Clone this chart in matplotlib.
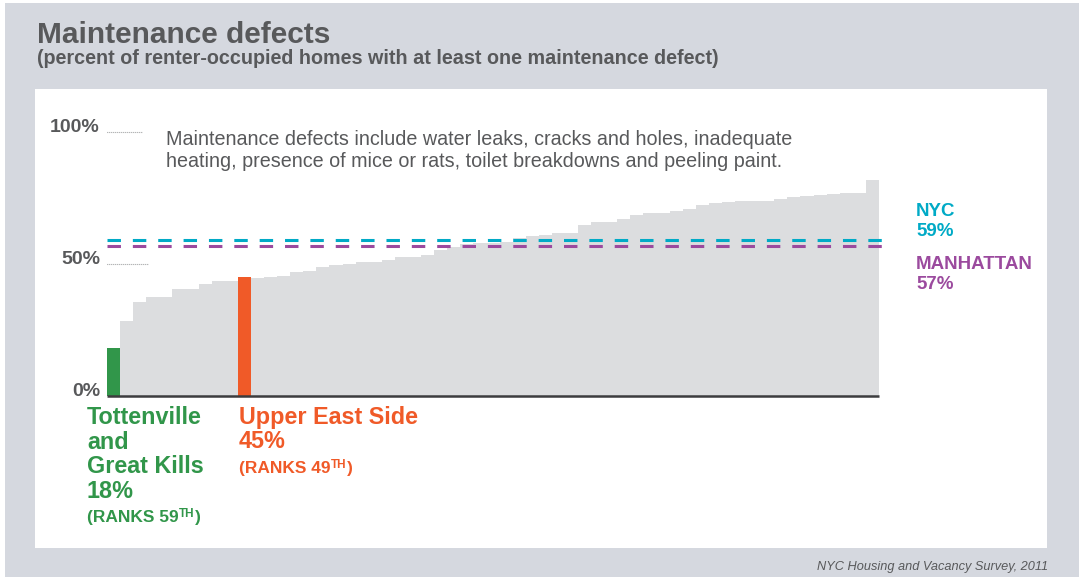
import matplotlib
matplotlib.use("Agg")
import matplotlib.pyplot as plt
from matplotlib.patches import Rectangle
from matplotlib import font_manager

# ---- data: share of renter-occupied homes with at least one maintenance defect ----
ranks_desc = list(range(59, 0, -1))          # bars run from rank 59 (lowest) to rank 1
defect_pct = [18, 28.4, 35.6, 37.5, 37.5, 40.7, 40.7, 42.4, 43.6, 43.6,
              45, 44.7, 45.1, 45.5, 47.0, 47.3, 48.8, 49.6, 50.0, 50.8,
              50.8, 51.5, 52.7, 52.7, 53.4, 55.3, 56.4, 57.6, 58.0, 58.0,
              58.3, 59.8, 60.5, 61.0, 61.7, 61.7, 64.8, 65.9, 65.9, 67.0,
              68.5, 69.3, 69.3, 70.0, 70.8, 72.3, 73.0, 73.5, 73.9, 73.9,
              73.9, 74.6, 75.4, 75.8, 76.1, 76.5, 76.9, 76.9, 81.8]
highlight_names = ["Tottenville\nand\nGreat Kills", "Upper East Side"]
highlight_ranks = [59, 49]
reference_names = ["NYC", "MANHATTAN"]
reference_pct = [59, 57]
y_ticks = [0, 50, 100]
y_tick_labels = ["0%", "50%", "100%"]

W, H = 1079, 577
BG = "#d5d8df"
GREY_BAR = "#dcdddf"
TEXT = "#58595b"
GREEN = "#31964a"
ORANGE = "#f05a28"
CYAN = "#00aac6"
PURPLE = "#9b4a9e"

avail = {f.name for f in font_manager.fontManager.ttflist}
NARROW = "Liberation Sans Narrow" if "Liberation Sans Narrow" in avail else "Liberation Sans"
FAM = [NARROW, "DejaVu Sans"]
plt.rcParams["font.family"] = FAM

fig = plt.figure(figsize=(W / 100, H / 100), dpi=100, facecolor="white")


def fx(x):
    return x / W


def fy(y):
    return 1 - y / H


# grey backdrop and white chart panel
fig.patches.append(Rectangle((fx(5), 0), 1 - fx(5), fy(3), transform=fig.transFigure,
                             facecolor=BG, edgecolor="none", zorder=-10))
fig.patches.append(Rectangle((fx(35), fy(548)), fx(1047) - fx(35), fy(89) - fy(548),
                             transform=fig.transFigure, facecolor="white",
                             edgecolor="none", zorder=-9))

# plotting area: bars between x=107..879 px, 0% at y=396 px, 100% at y=132 px
ax = fig.add_axes([fx(107), fy(396), fx(879) - fx(107), fy(132) - fy(396)])
ax.set_facecolor("none")
n = len(defect_pct)
xs = list(range(n))
colors = []
for r in ranks_desc:
    if r == highlight_ranks[0]:
        colors.append(GREEN)
    elif r == highlight_ranks[1]:
        colors.append(ORANGE)
    else:
        colors.append(GREY_BAR)
ax.bar(xs, defect_pct, width=1.0, color=colors, linewidth=0, zorder=2)
ax.set_xlim(-0.5, n - 0.5)
ax.set_ylim(0, 100)
ax.axis("off")

# baseline
ax.plot([-0.5, n - 0.5], [0, 0], color="#3c3c3e", lw=1.8, solid_capstyle="butt",
        zorder=3, clip_on=False)

# NYC / Manhattan reference lines
for pct, col in zip(reference_pct, [CYAN, PURPLE]):
    ax.plot([-0.5, n + 0.5], [pct, pct], color=col, lw=2.2, dashes=(4.4, 3.9),
            zorder=4, clip_on=False)

# y-axis labels with dotted leaders
leader_end = {100: 142, 50: 148}
for v, lab in zip(y_ticks, y_tick_labels):
    ax.text(-0.5 - 7 / 13.08, v, lab, ha="right", va="baseline", fontsize=14,
            fontweight="bold", color=TEXT, transform=ax.transData)
    if v in leader_end:
        x_end = (leader_end[v] - 107) / 13.08 - 0.5
        ax.plot([-0.5, x_end], [v, v], color="#6d6e70", lw=0.8, ls=(0, (0.6, 1.2)),
                clip_on=False, zorder=3)

# titles
fig.text(fx(37), fy(43), "Maintenance defects", fontsize=21.5, fontweight="bold",
         color=TEXT, ha="left", va="baseline")
fig.text(fx(37), fy(64), "(percent of renter-occupied homes with at least one maintenance defect)",
         fontsize=14.2, fontweight="bold", color=TEXT, ha="left", va="baseline")

# note
fig.text(fx(166), fy(145),
         "Maintenance defects include water leaks, cracks and holes, inadequate",
         fontsize=14.2, color=TEXT, ha="left", va="baseline")
fig.text(fx(166), fy(167),
         "heating, presence of mice or rats, toilet breakdowns and peeling paint.",
         fontsize=14.2, color=TEXT, ha="left", va="baseline")

# reference line labels
fig.text(fx(916), fy(216), reference_names[0], fontsize=13.5, fontweight="bold", color=CYAN)
fig.text(fx(916), fy(236), f"{reference_pct[0]}%", fontsize=13.5, fontweight="bold", color=CYAN)
fig.text(fx(916), fy(269), reference_names[1], fontsize=13.5, fontweight="bold", color=PURPLE)
fig.text(fx(916), fy(289), f"{reference_pct[1]}%", fontsize=13.5, fontweight="bold", color=PURPLE)

fig.canvas.draw()
renderer = fig.canvas.get_renderer()


def rank_label(x, y, rank, color):
    """Draw '(RANKS nnTH)' with a raised, smaller ordinal suffix."""
    t1 = fig.text(fx(x), fy(y), f"(RANKS {rank}", fontsize=12.5, fontweight="bold",
                  color=color, ha="left", va="baseline")
    x1 = t1.get_window_extent(renderer).x1
    t2 = fig.text(x1 / W + 0.0005, fy(y - 5), "TH", fontsize=8.5, fontweight="bold",
                  color=color, ha="left", va="baseline")
    x2 = t2.get_window_extent(renderer).x1
    fig.text(x2 / W + 0.0005, fy(y), ")", fontsize=12.5, fontweight="bold",
             color=color, ha="left", va="baseline")


# highlighted districts
green_pct = defect_pct[ranks_desc.index(highlight_ranks[0])]
orange_pct = defect_pct[ranks_desc.index(highlight_ranks[1])]
for i, line in enumerate(highlight_names[0].split("\n")):
    fig.text(fx(87), fy(424 + 24.7 * i), line, fontsize=16.8, fontweight="bold",
             color=GREEN, ha="left", va="baseline")
fig.text(fx(87), fy(498), f"{green_pct:.0f}%", fontsize=16.8, fontweight="bold",
         color=GREEN, ha="left", va="baseline")
rank_label(87, 522, highlight_ranks[0], GREEN)

fig.text(fx(239), fy(424), highlight_names[1], fontsize=16.8, fontweight="bold",
         color=ORANGE, ha="left", va="baseline")
fig.text(fx(239), fy(448), f"{orange_pct:.0f}%", fontsize=16.8, fontweight="bold",
         color=ORANGE, ha="left", va="baseline")
rank_label(239, 473, highlight_ranks[1], ORANGE)

# source
fig.text(fx(1048), fy(570), "NYC Housing and Vacancy Survey, 2011", fontsize=9.2,
         style="italic", color=TEXT, ha="right", va="baseline")

fig.savefig("out.png", dpi=100, facecolor="white")
